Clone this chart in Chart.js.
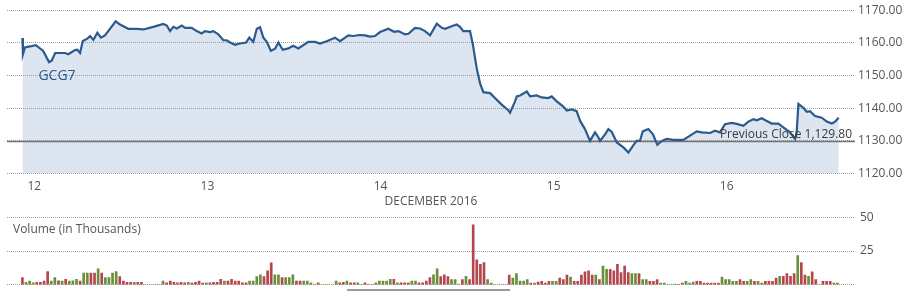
<!DOCTYPE html>
<html>
<head>
<meta charset="utf-8">
<script src="https://cdn.jsdelivr.net/npm/chart.js@4.4.1/dist/chart.umd.min.js"></script>
<style>
  html, body { margin:0; padding:0; background:#fff; }
  #wrap { position:relative; width:910px; height:292px; overflow:hidden; }
  #price { position:absolute; left:0; top:0; }
  #volume { position:absolute; left:0; top:205px; }
  #slider { position:absolute; left:347px; top:289px; width:163px; height:1.5px; background:#9a9a9a; }
</style>
</head>
<body>
<div id="wrap">
  <canvas id="price" width="910" height="210"></canvas>
  <canvas id="volume" width="910" height="92"></canvas>
  <div id="slider"></div>
</div>
<script>
// ---- data ----
const symbolName = 'GCG7';
const monthTitle = 'DECEMBER 2016';
const dayTicks = [12, 13, 14, 15, 16];
const xRange = [11.842, 16.741];
const priceTicks = [1120, 1130, 1140, 1150, 1160, 1170];
const previousClose = 1129.80;
const previousCloseLabel = 'Previous Close 1,129.80';

const priceDays = [
11.931, 11.934, 11.946, 11.975, 12.008, 12.050, 12.085, 12.101, 12.120, 12.177,
12.196, 12.235, 12.248, 12.264, 12.280, 12.306, 12.322, 12.341, 12.364, 12.385,
12.408, 12.441, 12.470, 12.495, 12.543, 12.592, 12.630, 12.687, 12.745, 12.765,
12.784, 12.803, 12.823, 12.852, 12.871, 12.909, 12.938, 12.967, 12.986, 13.015,
13.034, 13.063, 13.092, 13.111, 13.131, 13.159, 13.188, 13.223, 13.242, 13.265,
13.285, 13.304, 13.323, 13.343, 13.366, 13.391, 13.410, 13.435, 13.467, 13.496,
13.525, 13.583, 13.622, 13.650, 13.689, 13.737, 13.766, 13.814, 13.843, 13.878,
13.910, 13.939, 13.968, 13.997, 14.045, 14.078, 14.103, 14.142, 14.161, 14.199,
14.228, 14.257, 14.286, 14.325, 14.354, 14.373, 14.411, 14.440, 14.459, 14.478,
14.517, 14.533, 14.556, 14.575, 14.594, 14.633, 14.661, 14.700, 14.738, 14.748,
14.777, 14.787, 14.806, 14.845, 14.864, 14.902, 14.931, 14.969, 14.989, 15.018,
15.056, 15.076, 15.105, 15.133, 15.153, 15.181, 15.210, 15.239, 15.258, 15.268,
15.297, 15.316, 15.336, 15.365, 15.403, 15.432, 15.460, 15.480, 15.499, 15.515,
15.547, 15.573, 15.599, 15.625, 15.653, 15.692, 15.749, 15.788, 15.827, 15.856,
15.904, 15.932, 15.961, 15.990, 16.029, 16.058, 16.096, 16.125, 16.154, 16.173,
16.202, 16.231, 16.260, 16.298, 16.327, 16.366, 16.395, 16.404, 16.414, 16.443,
16.462, 16.481, 16.510, 16.549, 16.578, 16.607, 16.626, 16.647
];
const priceValues = [
1161.5, 1156.5, 1158.6, 1158.9, 1159.3, 1157.6, 1154.1, 1154.6, 1156.9, 1156.9,
1156.5, 1157.8, 1157.9, 1156.9, 1160.6, 1161.3, 1162.1, 1160.9, 1163.1, 1161.6,
1162.3, 1164.6, 1166.6, 1165.6, 1164.3, 1164.3, 1164.1, 1164.9, 1165.8, 1165.3,
1163.6, 1164.9, 1164.4, 1165.3, 1164.6, 1164.6, 1163.6, 1162.9, 1163.6, 1163.3,
1163.6, 1162.6, 1160.8, 1160.8, 1160.1, 1159.4, 1159.8, 1160.1, 1161.6, 1160.3,
1164.3, 1164.8, 1161.6, 1160.3, 1157.6, 1158.2, 1160.1, 1157.9, 1158.3, 1159.1,
1158.3, 1160.3, 1160.3, 1159.8, 1160.5, 1161.6, 1160.5, 1162.3, 1162.1, 1162.4,
1162.3, 1161.9, 1162.1, 1163.3, 1164.3, 1163.4, 1163.6, 1162.6, 1162.8, 1164.6,
1164.4, 1163.6, 1162.3, 1165.9, 1164.6, 1164.3, 1165.1, 1165.6, 1164.9, 1163.6,
1163.6, 1159.6, 1152.1, 1147.6, 1144.9, 1144.6, 1143.1, 1141.1, 1139.4, 1138.6,
1142.1, 1143.6, 1143.9, 1145.1, 1143.6, 1143.9, 1143.3, 1143.1, 1143.6, 1142.1,
1140.5, 1139.3, 1139.6, 1139.1, 1136.1, 1133.6, 1130.0, 1132.6, 1131.1, 1130.0,
1132.0, 1133.6, 1132.7, 1129.5, 1128.0, 1126.4, 1128.6, 1130.0, 1130.1, 1132.9,
1133.6, 1132.1, 1128.8, 1130.0, 1130.6, 1130.3, 1130.3, 1131.6, 1132.9, 1132.6,
1132.4, 1133.1, 1132.6, 1135.1, 1135.5, 1135.2, 1134.6, 1135.9, 1136.6, 1136.3,
1136.9, 1136.1, 1135.3, 1135.3, 1134.1, 1132.6, 1130.6, 1132.6, 1141.3, 1140.1,
1138.9, 1139.1, 1137.6, 1137.1, 1135.9, 1135.3, 1135.9, 1137.1
];

// volume: one bar every 30 minutes (1/48 day), starting at volumeStartDay
const volumeTitle = 'Volume (in Thousands)';
const volumeTicks = [0, 25, 50];
const volumeStartDay = 11.931;
const volumeStepDays = 1 / 48;
const volumes = [
5.3,1.8,2.8,1.5,1.8,1.8,2.8,9.8,2.8,5.3,
3.0,2.8,4.0,2.8,3.0,4.0,2.8,8.6,8.6,8.6,
8.6,11.9,8.6,5.3,5.3,8.6,9.8,6.0,2.8,1.8,
1.8,1.8,1.8,1.8,0,0,0,0,0,2.8,
1.5,2.8,1.8,1.5,1.8,1.5,1.8,1.3,1.8,2.8,
1.3,1.5,1.5,1.8,1.8,4.0,2.8,2.8,4.0,2.8,
2.8,1.5,1.5,2.8,2.8,6.0,7.3,6.0,10.4,16.2,
7.3,7.3,5.3,5.3,5.3,7.3,2.8,2.8,2.8,2.8,
1.5,0.4,1.5,0,0,0,0,2.8,1.5,1.8,
2.8,1.5,1.5,1.5,0.4,1.5,0.4,0.4,1.5,2.8,
2.8,2.8,4.0,4.0,1.5,1.5,1.5,1.5,2.8,2.8,
1.5,1.5,2.8,5.3,7.3,11.9,6.0,7.3,6.0,3.8,
3.8,0.5,3.8,6.3,3.8,44.4,18.4,15.2,16.4,3.8,
1.3,0,0,0,0,7.1,5.0,8.3,2.8,2.8,
3.8,1.3,1.3,2.0,2.5,1.3,2.5,2.5,2.5,5.0,
3.8,7.1,5.8,2.5,2.5,7.1,9.6,10.4,7.1,7.1,
3.8,13.9,11.4,11.4,10.4,15.2,9.1,13.9,9.1,8.3,
8.3,8.3,3.8,3.8,2.5,2.5,3.8,1.3,1.3,0,
0,0.5,0.3,1.3,2.5,1.3,2.0,2.5,2.5,1.3,
1.3,1.3,1.3,1.3,5.8,3.8,3.8,2.5,2.5,3.8,
2.5,2.5,3.8,2.5,2.5,1.3,2.5,2.5,2.5,5.0,
6.3,6.3,8.3,6.3,8.3,21.7,16.4,7.1,6.3,9.6,
3.8,0,2.5,2.5,2.5,1.3,1.3
];
// +1 = up interval, -1 = down interval
const volumeDirection = [
-1,1,1,1,-1,-1,-1,-1,1,1,
-1,1,-1,1,1,1,-1,1,1,-1,
-1,1,-1,1,1,1,1,-1,-1,-1,
-1,1,-1,-1,1,1,1,1,1,1,
-1,-1,-1,-1,-1,-1,1,-1,-1,-1,
-1,1,-1,-1,-1,-1,1,-1,-1,-1,
-1,-1,-1,1,1,1,1,-1,-1,-1,
1,1,-1,1,1,1,-1,-1,1,1,
1,1,-1,1,1,1,1,1,-1,-1,
1,-1,-1,1,1,-1,-1,1,1,1,
1,1,1,-1,1,-1,-1,-1,1,1,
-1,-1,-1,-1,1,1,-1,-1,-1,1,
1,1,-1,1,-1,-1,-1,-1,-1,1,
1,1,1,1,1,-1,1,1,1,1,
1,-1,1,-1,-1,-1,-1,1,1,-1,
-1,-1,1,-1,-1,-1,-1,-1,-1,1,
-1,1,1,-1,-1,-1,-1,-1,-1,1,
1,-1,1,1,-1,-1,-1,1,1,1,
1,1,-1,-1,1,1,1,-1,-1,-1,
-1,-1,-1,-1,1,1,1,1,1,-1,
-1,1,1,-1,1,1,-1,-1,-1,-1,
1,-1,-1,-1,-1,1,-1,-1,1,-1,
-1,1,-1,-1,-1,1,1
];

// ---- styles ----
const FONT = "'Open Sans', 'DejaVu Sans', sans-serif";
const TEXT = '#555';
const GRID = '#a0a0a0';
const LINE = '#2b5b8e';
const FILL = 'rgba(115,151,195,0.25)';
const UP = '#6a8f3c';
const DOWN = '#b3474d';

Chart.defaults.font.family = FONT;
Chart.defaults.color = TEXT;

const priceLabels = {
  id: 'priceLabels',
  afterDatasetsDraw(chart) {
    const { ctx, chartArea, scales } = chart;
    ctx.save();
    ctx.font = "12px " + FONT;
    ctx.fillStyle = '#3a3a3a';
    ctx.textAlign = 'right';
    ctx.textBaseline = 'bottom';
    ctx.fillText(previousCloseLabel, chartArea.right - 3, scales.y.getPixelForValue(previousClose) - 1);
    ctx.font = "14px " + FONT;
    ctx.fillStyle = LINE;
    ctx.textAlign = 'left';
    ctx.textBaseline = 'middle';
    ctx.fillText(symbolName, scales.x.getPixelForValue(priceDays[0]) + 16, scales.y.getPixelForValue(1150));
    ctx.restore();
  }
};

new Chart(document.getElementById('price'), {
  type: 'line',
  data: {
    datasets: [
      {
        label: symbolName,
        data: priceDays.map((d, i) => ({ x: d, y: priceValues[i] })),
        borderColor: LINE, borderWidth: 2.2, backgroundColor: FILL,
        fill: 'start', pointRadius: 0, tension: 0, order: 1
      },
      {
        label: 'Previous Close',
        data: [{ x: xRange[0], y: previousClose }, { x: xRange[1], y: previousClose }],
        borderColor: '#737373', borderWidth: 1.5, pointRadius: 0, fill: false, order: 2
      }
    ]
  },
  options: {
    responsive: false, animation: false, devicePixelRatio: 1,
    layout: { padding: { left: 7, top: 7, right: 0, bottom: 0 } },
    plugins: { legend: { display: false }, tooltip: { enabled: false }, filler: { drawTime: 'beforeDatasetsDraw' } },
    scales: {
      x: {
        type: 'linear', min: xRange[0], max: xRange[1],
        afterBuildTicks: s => { s.ticks = dayTicks.map(v => ({ value: v })); },
        afterFit: s => { s.height = 36.5; },
        grid: { display: false, drawTicks: false },
        border: { display: false },
        ticks: { callback: v => String(v), font: { size: 12 }, color: '#555', padding: 6, maxRotation: 0, autoSkip: false },
        title: { display: true, text: monthTitle, font: { size: 12 }, color: '#555', padding: { top: 1, bottom: 1 } }
      },
      y: {
        position: 'right', min: priceTicks[0], max: priceTicks[priceTicks.length - 1],
        afterBuildTicks: s => { s.ticks = priceTicks.map(v => ({ value: v })); },
        afterFit: s => { s.width = 55; },
        grid: { color: GRID, lineWidth: 1, drawTicks: false },
        border: { display: false, dash: [1, 1] },
        ticks: { callback: v => v.toFixed(2), font: { size: 12 }, color: '#555', padding: 3 }
      }
    }
  },
  plugins: [priceLabels]
});

const volumeLabels = {
  id: 'volumeLabels',
  afterDraw(chart) {
    const { ctx, chartArea } = chart;
    ctx.save();
    ctx.font = "12px " + FONT;
    ctx.fillStyle = '#555';
    ctx.textAlign = 'left';
    ctx.textBaseline = 'middle';
    ctx.fillText(volumeTitle, chartArea.left + 6, chartArea.top + 12);
    ctx.restore();
  }
};

new Chart(document.getElementById('volume'), {
  type: 'bar',
  data: {
    datasets: [{
      label: 'Volume',
      data: volumes.map((v, i) => ({ x: volumeStartDay + i * volumeStepDays, y: v })),
      backgroundColor: volumeDirection.map(d => d > 0 ? UP : DOWN),
      barThickness: 2, borderWidth: 0
    }]
  },
  options: {
    responsive: false, animation: false, devicePixelRatio: 1,
    layout: { padding: { left: 7, top: 7, right: 0, bottom: 9 } },
    plugins: { legend: { display: false }, tooltip: { enabled: false } },
    scales: {
      x: {
        type: 'linear', min: xRange[0], max: xRange[1], offset: false,
        display: false, grid: { offset: false }
      },
      y: {
        position: 'right', min: volumeTicks[0], max: volumeTicks[volumeTicks.length - 1],
        afterBuildTicks: s => { s.ticks = volumeTicks.map(v => ({ value: v })); },
        afterFit: s => { s.width = 55; },
        grid: { color: GRID, lineWidth: 1, drawTicks: false },
        border: { display: false, dash: [1, 1] },
        ticks: { callback: v => v === 0 ? '' : String(v), font: { size: 12 }, color: '#555', padding: 5 }
      }
    }
  },
  plugins: [volumeLabels]
});
</script>
</body>
</html>
